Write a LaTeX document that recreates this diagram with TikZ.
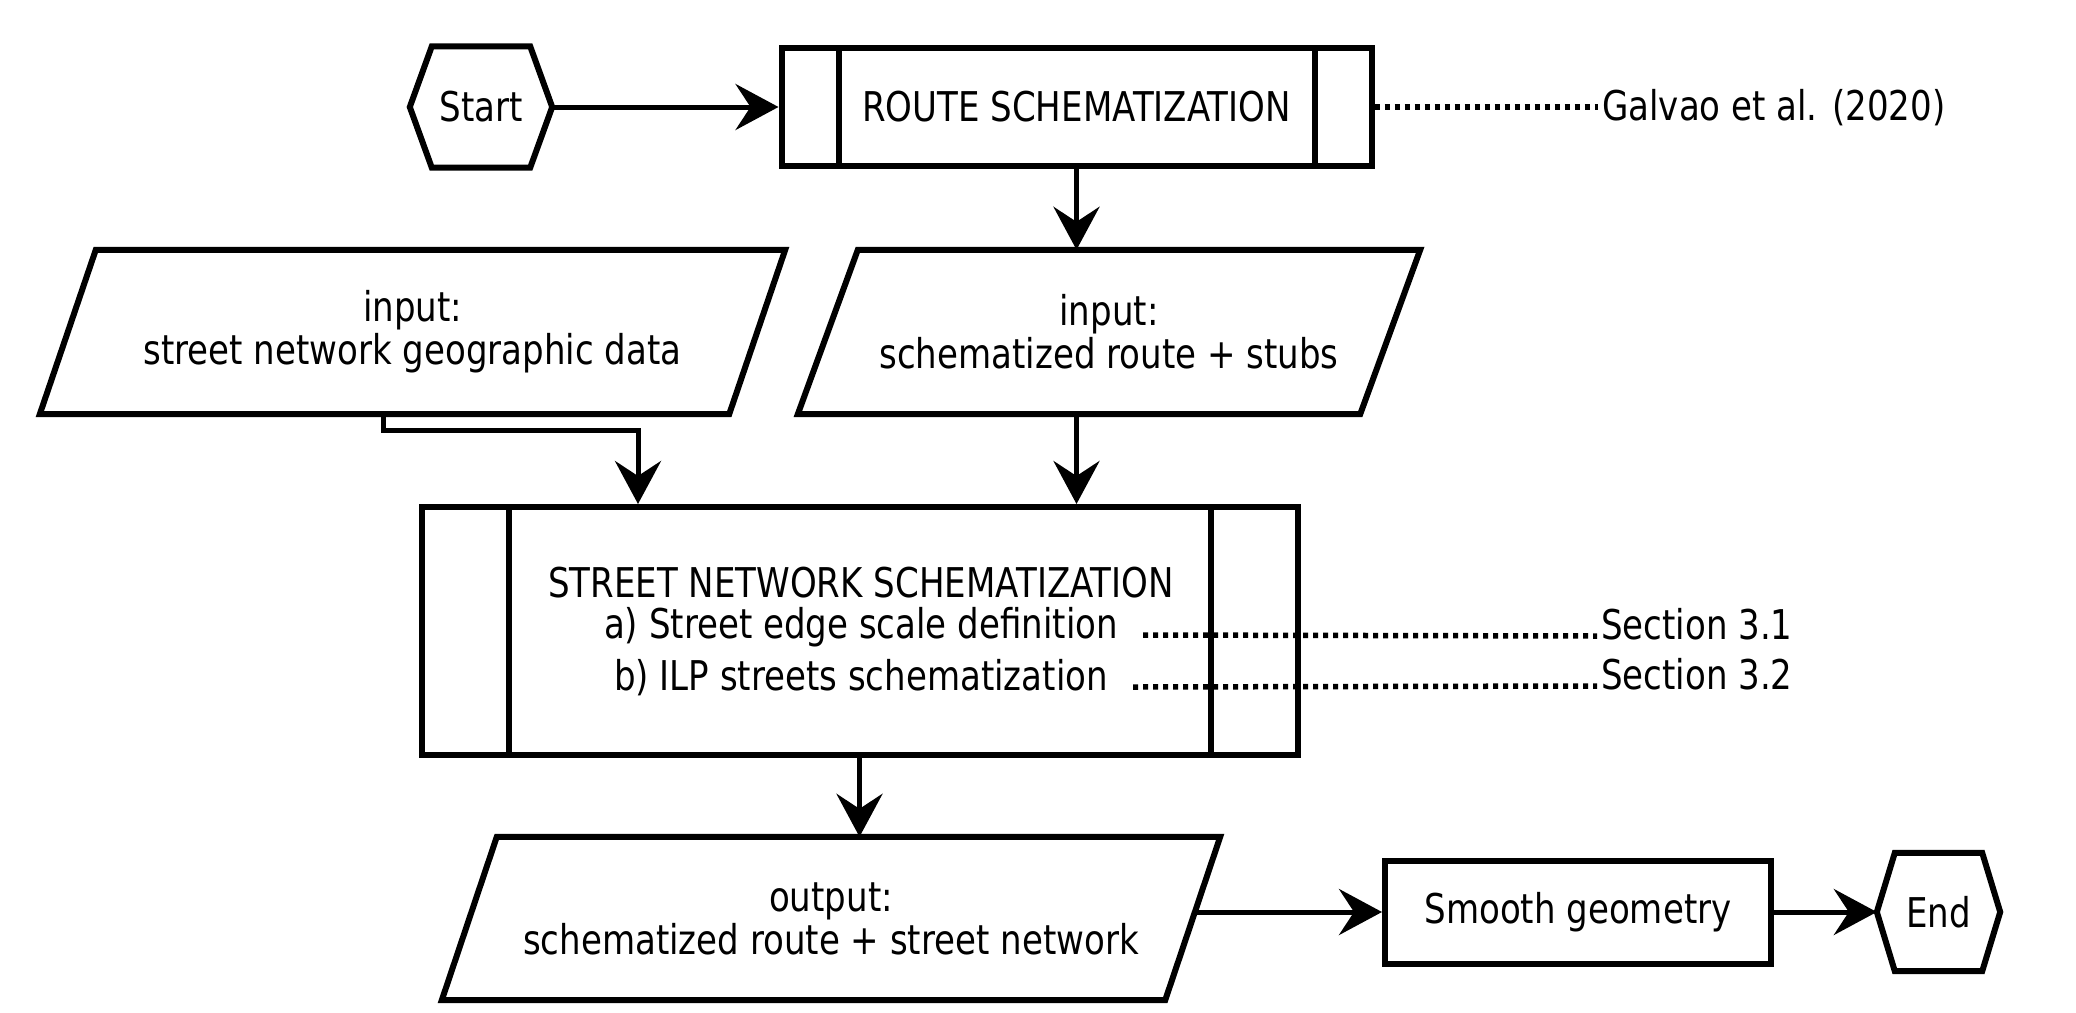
\documentclass[tikz,border=0pt]{standalone}
\usepackage{fontspec}
\setmainfont{DejaVu Sans}[FakeStretch=0.83]
\usetikzlibrary{arrows.meta,calc}
\newcommand\hexat[2]{\draw[outline] ($(#1.north west)+(#2,0)$) -- ($(#1.north east)+(-#2,0)$) -- (#1.east) -- ($(#1.south east)+(-#2,0)$) -- ($(#1.south west)+(#2,0)$) -- (#1.west) -- cycle;}
\newcommand\paraat[2]{\draw[outline] ($(#1.north west)+(#2,0)$) -- ($(#1.north east)+(#2,0)$) -- ($(#1.south east)+(-#2,0)$) -- ($(#1.south west)+(-#2,0)$) -- cycle;}
\newcommand\sidebars[2]{\draw[outline] ($(#1.north west)+(#2,0)$) -- ($(#1.south west)+(#2,0)$); \draw[outline] ($(#1.north east)+(-#2,0)$) -- ($(#1.south east)+(-#2,0)$);}
\begin{document}
\begin{tikzpicture}[x=1pt,y=-1pt,
  lbl/.style={inner sep=0pt, font=\fontsize{41}{43}\selectfont},
  shp/.style={lbl, align=center},
  box/.style={shp, draw, line width=6pt},
  outline/.style={line width=6pt, line join=miter},
  flow/.style={line width=5pt, line join=miter, -{Stealth[length=43pt,width=46pt,inset=15pt]}},
  dotline/.style={line width=5.5pt, dash pattern=on 5pt off 5pt},
]
\useasboundingbox (0,0) rectangle (2076,1012);

% start / end terminals
\node[shp, minimum width=142pt, minimum height=121pt] (start) at (481,107) {Start};
\hexat{start}{22}
\node[shp, minimum width=123pt, minimum height=118pt] (endn) at (1938.5,912) {End};
\hexat{endn}{18}

% predefined processes
\node[box, minimum width=590pt, minimum height=118pt] (route) at (1076.5,107) {ROUTE SCHEMATIZATION};
\sidebars{route}{60}
\node[box, minimum width=876pt, minimum height=248pt] (sns) at (859.5,631) {};
\sidebars{sns}{90}
\node[lbl, anchor=base] (snst) at (861,597) {STREET NETWORK SCHEMATIZATION};
\node[lbl, anchor=base] (snsa) at (861,638) {a) Street edge scale definition};
\node[lbl, anchor=base] (snsb) at (861,690) {b) ILP streets schematization};

% data
\node[shp, minimum width=689pt, minimum height=164pt] (in1) at (412.5,332) {input:\\street network geographic data};
\paraat{in1}{28}
\node[shp, minimum width=562pt, minimum height=164pt] (in2) at (1109,332) {input:\\schematized route + stubs};
\paraat{in2}{30}
\node[shp, minimum width=723pt, minimum height=163pt] (out) at (831,918.5) {output:\\schematized route + street network};
\paraat{out}{27.5}

% process
\node[box, minimum width=386pt, minimum height=103pt] (smooth) at (1578,912) {Smooth geometry};

% references
\node[lbl, anchor=base west] (galvao) at (1602,120) {Galvao et al. (2020)};
\node[lbl, anchor=base west] (sec1) at (1601,639) {Section 3.1};
\node[lbl, anchor=base west] (sec2) at (1601,689) {Section 3.2};

% flow
\draw[flow] (start.east) -- (route.west);
\draw[flow] (route.south) -- (route.south |- in2.north);
\draw[flow] ([xshift=-29.5pt]in1.south) -- ++(0,16) -| ([xshift=-221.5pt]sns.north);
\draw[flow] (route.south |- in2.south) -- (route.south |- sns.north);
\draw[flow] (sns.south) -- (sns.south |- out.north);
\draw[flow] (out.east |- smooth.west) -- (smooth.west);
\draw[flow] (smooth.east) -- (endn.west);

% dotted references
\draw[dotline] (route.east) -- ([xshift=-4pt]galvao.west |- route.east);
\draw[dotline] ([shift={(25pt,3pt)}]snsa.base east) -- ([shift={(-4pt,3pt)}]sec1.base west);
\draw[dotline] ([shift={(25pt,3pt)}]snsb.base east) -- ([shift={(-4pt,3pt)}]sec2.base west);
\end{tikzpicture}
\end{document}
